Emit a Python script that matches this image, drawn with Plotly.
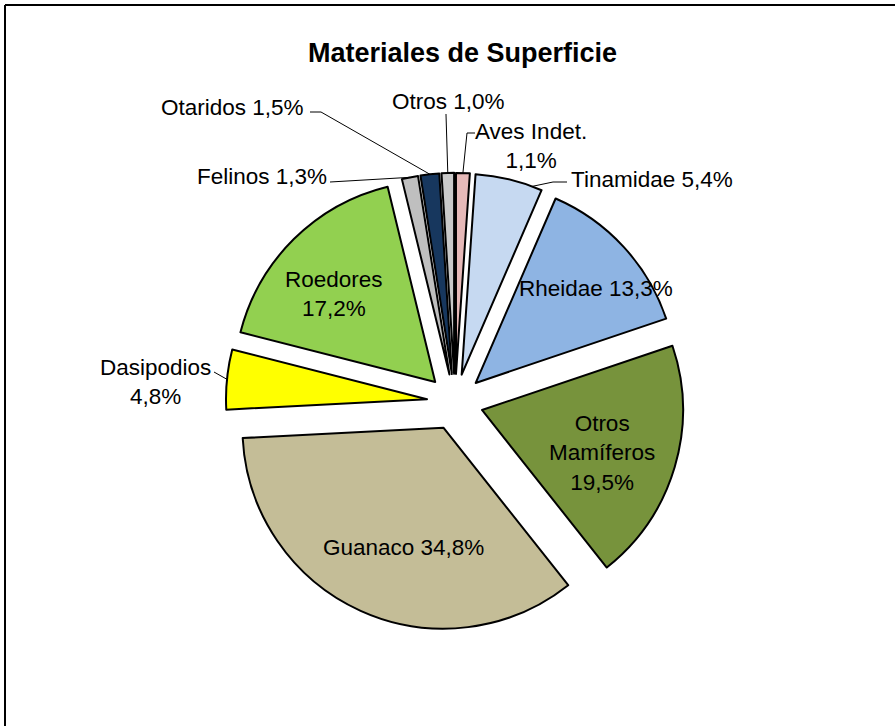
import math
import plotly.graph_objects as go

# ---- data ----
categories = ["Aves Indet.", "Tinamidae", "Rheidae", "Otros Mamíferos", "Guanaco",
              "Dasipodios", "Roedores", "Felinos", "Otaridos", "Otros"]
percentages = [1.1, 5.4, 13.3, 19.5, 34.8, 4.8, 17.2, 1.3, 1.5, 1.0]
display_names = ["Aves Indet.<br>", "Tinamidae ", "Rheidae ", "Otros<br>Mamíferos<br>", "Guanaco ",
                 "Dasipodios<br>", "Roedores<br>", "Felinos ", "Otaridos ", "Otros "]
colors = ["#E6B9B8", "#C6D9F1", "#8EB4E3", "#77933C", "#C4BD97",
          "#FFFF00", "#92D050", "#BFBFBF", "#17375E", "#C9C9C9"]

# ---- layout / style ----
W, H = 895, 726
CX, CY = 455, 402          # pie centre (px)
PULL = 0.14
R = 201                    # slice radius (px)
D = 2 * R * (1 + PULL)     # domain size
FONT = "Liberation Sans, Arial, sans-serif"
FS = 22.5

def px(x):
    return x / W

def py(y):
    return 1 - y / H

# label centre positions (px) and leader lines (start, elbow, attach fraction along slice)
label_pos = {
    "Aves Indet.": (531, 146), "Tinamidae": (652, 179), "Rheidae": (596, 288),
    "Otros Mamíferos": (602, 453), "Guanaco": (403, 547), "Dasipodios": (155, 382),
    "Roedores": (334, 294), "Felinos": (262, 177), "Otaridos": (232, 107), "Otros": (448, 102),
}
leaders = {
    "Otros": [(446, 114)],
    "Aves Indet.": [(475, 133), (467, 133)],
    "Tinamidae": [(567, 182), (553, 182)],
    "Felinos": [(330, 182)],
    "Otaridos": [(310, 112), (321, 112)],
    "Dasipodios": [(214, 372)],
}
attach_frac = {"Tinamidae": 0.85}

fig = go.Figure(go.Pie(
    labels=categories, values=percentages, sort=False, direction="clockwise", rotation=0,
    pull=PULL, textinfo="none", hoverinfo="label+percent", showlegend=False,
    marker=dict(colors=colors, line=dict(color="black", width=2)),
    domain=dict(x=[px(CX - D / 2), px(CX + D / 2)], y=[py(CY + D / 2), py(CY - D / 2)]),
))

annotations = []
shapes = []
total = sum(percentages)
cum = 0.0
for name, val, disp in zip(categories, percentages, display_names):
    a0 = cum / total * 360
    a1 = (cum + val) / total * 360
    cum += val
    amid = (a0 + a1) / 2
    text = disp + f"{val:.1f}%".replace(".", ",")
    x, y = label_pos[name]
    annotations.append(dict(x=px(x), y=py(y), xref="paper", yref="paper", text=text,
                            showarrow=False, align="center", xanchor="center", yanchor="middle",
                            font=dict(family=FONT, size=FS, color="black")))
    if name in leaders:
        f = attach_frac.get(name, 0.5)
        at = a0 + f * (a1 - a0)
        ox = R * PULL * math.sin(math.radians(amid))
        oy = -R * PULL * math.cos(math.radians(amid))
        ex = CX + ox + R * math.sin(math.radians(at))
        ey = CY + oy - R * math.cos(math.radians(at))
        pts = leaders[name] + [(ex, ey)]
        path = "M " + " L ".join(f"{px(a):.5f},{py(b):.5f}" for a, b in pts)
        shapes.append(dict(type="path", xref="paper", yref="paper", path=path,
                           line=dict(color="black", width=1)))

# chart frame (top and left edges visible)
shapes.append(dict(type="line", xref="paper", yref="paper", x0=px(5), y0=py(5), x1=1, y1=py(5),
                   line=dict(color="black", width=2)))
shapes.append(dict(type="line", xref="paper", yref="paper", x0=px(5), y0=py(5), x1=px(5), y1=0,
                   line=dict(color="black", width=2)))

annotations.append(dict(x=px(463), y=py(53), xref="paper", yref="paper",
                        text="<b>Materiales de Superficie</b>", showarrow=False,
                        xanchor="center", yanchor="middle",
                        font=dict(family=FONT, size=27, color="black")))

fig.update_layout(width=W, height=H, margin=dict(l=0, r=0, t=0, b=0),
                  paper_bgcolor="white", plot_bgcolor="white",
                  annotations=annotations, shapes=shapes)
fig.write_html("out.html", config={"displayModeBar": False},
               post_script="document.body.style.margin='0';document.body.style.overflow='hidden';")
